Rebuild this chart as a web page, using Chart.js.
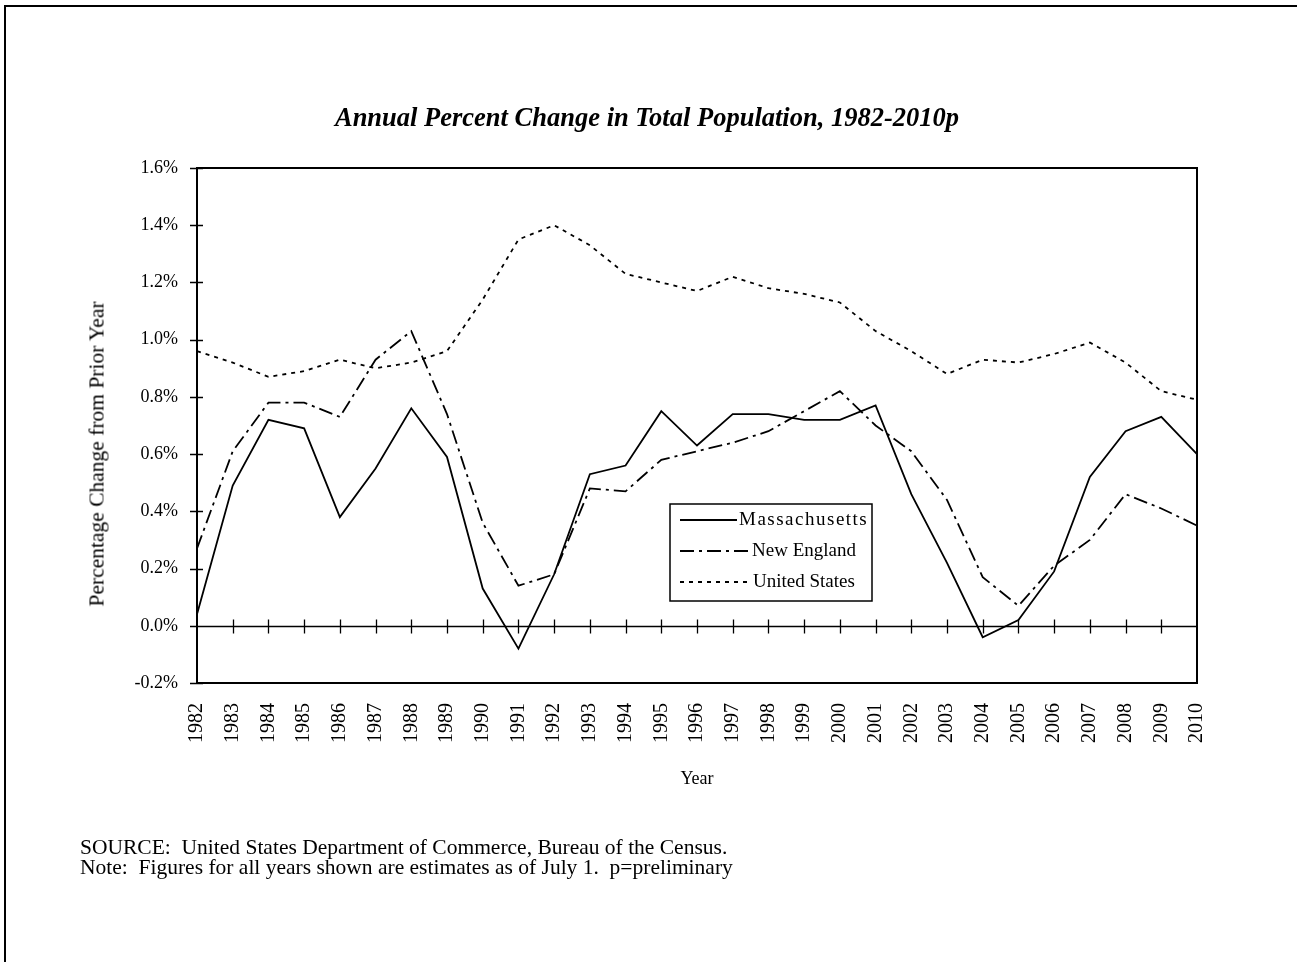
<!DOCTYPE html>
<html>
<head>
<meta charset="utf-8">
<script src="https://cdn.jsdelivr.net/npm/chart.js@4"></script>
<style>
    html, body { margin: 0; padding: 0; background: #fff; }
    #page { position: relative; width: 1297px; height: 962px; overflow: hidden; font-family: "Liberation Serif", "Times New Roman", serif; }
    #frame { position: absolute; left: 4px; top: 5px; width: 1400px; height: 1000px; border-left: 2px solid #000; border-top: 2px solid #000; }
    #popChart { position: absolute; left: 0; top: 0; }
    #title { position: absolute; left: 0; width: 1294px; top: 102px; text-align: center; font-size: 26.5px; font-weight: bold; font-style: italic; }
    #ytitle { position: absolute; left: 97px; top: 454px; transform: translate(-50%, -50%) rotate(-90deg); font-size: 21.5px; white-space: nowrap; }
    .note { position: absolute; left: 80px; font-size: 21.5px; white-space: pre; }
</style>
</head>
<body>
<div id="page">
    <div id="frame"></div>
    <canvas id="popChart" width="1297" height="962"></canvas>
    <div id="title">Annual Percent Change in Total Population, 1982-2010p</div>
    <div id="ytitle">Percentage Change from Prior Year</div>
    <div class="note" style="top: 835px;">SOURCE:  United States Department of Commerce, Bureau of the Census.</div>
    <div class="note" style="top: 855px;">Note:  Figures for all years shown are estimates as of July 1.  p=preliminary</div>
</div>
<script>
const years = ['1982', '1983', '1984', '1985', '1986', '1987', '1988', '1989', '1990', '1991',
    '1992', '1993', '1994', '1995', '1996', '1997', '1998', '1999', '2000', '2001',
    '2002', '2003', '2004', '2005', '2006', '2007', '2008', '2009', '2010'];

const massachusetts = [0.04, 0.49, 0.72, 0.69, 0.38, 0.55, 0.76, 0.59, 0.13, -0.08,
    0.18, 0.53, 0.56, 0.75, 0.63, 0.74, 0.74, 0.72, 0.72, 0.77,
    0.46, 0.22, -0.04, 0.02, 0.19, 0.52, 0.68, 0.73, 0.60];

const newEngland = [0.27, 0.61, 0.78, 0.78, 0.73, 0.93, 1.03, 0.74, 0.36, 0.14,
    0.18, 0.48, 0.47, 0.58, 0.61, 0.64, 0.68, 0.75, 0.82, 0.70,
    0.61, 0.44, 0.17, 0.07, 0.21, 0.30, 0.46, 0.41, 0.35];

const unitedStates = [0.96, 0.92, 0.87, 0.89, 0.93, 0.90, 0.92, 0.96, 1.14, 1.35,
    1.40, 1.33, 1.23, 1.20, 1.17, 1.22, 1.18, 1.16, 1.13, 1.03,
    0.96, 0.88, 0.93, 0.92, 0.95, 0.99, 0.92, 0.82, 0.79];

const seriesNames = ['Massachusetts', 'New England', 'United States'];
const dashes = [[], [14, 5, 3, 5], [4, 5]];

const serif = '"Liberation Serif", "Times New Roman", serif';

// axis frame, zero line, tick marks and the boxed legend
const framePlugin = {
    id: 'frame',
    afterDraw(chart) {
        const ctx = chart.ctx;
        const area = chart.chartArea;
        const x = chart.scales.x;
        const y = chart.scales.y;
        ctx.save();
        ctx.strokeStyle = '#000';

        ctx.lineWidth = 2;
        ctx.strokeRect(area.left, area.top, area.right - area.left, area.bottom - area.top);

        ctx.lineWidth = 1.3;
        const y0 = Math.round(y.getPixelForValue(0)) + 0.5;
        ctx.beginPath();
        ctx.moveTo(area.left, y0);
        ctx.lineTo(area.right, y0);
        y.ticks.forEach(t => {
            const py = Math.round(y.getPixelForValue(t.value)) + 0.5;
            ctx.moveTo(area.left - 7, py);
            ctx.lineTo(area.left + 6, py);
        });
        for (let i = 1; i < years.length - 1; i++) {
            const px = Math.round(x.getPixelForValue(i)) + 0.5;
            ctx.moveTo(px, y0 - 7);
            ctx.lineTo(px, y0 + 7);
        }
        ctx.stroke();

        // legend
        const w = area.right - area.left;
        const bx = area.left + 0.473 * w;
        const by = area.top + 336;
        const textX = [69, 82, 83];
        const spacing = ['1.5px', '0px', '0px'];
        ctx.lineWidth = 1.5;
        ctx.strokeRect(bx, by, 202, 97);
        ctx.font = '19px ' + serif;
        ctx.fillStyle = '#000';
        ctx.textBaseline = 'middle';
        seriesNames.forEach((name, i) => {
            const ly = by + 16 + i * 31;
            ctx.beginPath();
            ctx.setLineDash(dashes[i]);
            ctx.lineWidth = 2;
            ctx.moveTo(bx + 10, ly);
            ctx.lineTo(bx + textX[i] - 2, ly);
            ctx.stroke();
            ctx.setLineDash([]);
            ctx.letterSpacing = spacing[i];
            ctx.fillText(name, bx + textX[i], ly);
        });
        ctx.restore();
    }
};

function line(label, data, dash) {
    return {
        label: label,
        data: data,
        borderColor: '#000',
        backgroundColor: '#000',
        borderWidth: 1.8,
        borderDash: dash,
        pointRadius: 0,
        tension: 0,
        fill: false,
    };
}

new Chart(document.getElementById('popChart'), {
    type: 'line',
    data: {
        labels: years,
        datasets: [
            line(seriesNames[0], massachusetts, dashes[0]),
            line(seriesNames[1], newEngland, dashes[1]),
            line(seriesNames[2], unitedStates, dashes[2]),
        ],
    },
    options: {
        responsive: false,
        animation: false,
        layout: {
            padding: { top: 168, right: 100, left: 83, bottom: 162 },
        },
        plugins: {
            legend: { display: false },
            tooltip: { enabled: false },
        },
        scales: {
            x: {
                type: 'category',
                offset: false,
                grid: { display: false },
                border: { display: false },
                ticks: {
                    autoSkip: false,
                    maxRotation: 90,
                    minRotation: 90,
                    padding: 12,
                    color: '#000',
                    font: { family: serif, size: 20 },
                },
                title: {
                    display: true,
                    text: 'Year',
                    color: '#000',
                    font: { family: serif, size: 18 },
                    padding: { top: 4, bottom: 10 },
                },
                afterFit(scale) { scale.height = 117; },
            },
            y: {
                min: -0.2,
                max: 1.6,
                grid: { display: false },
                border: { display: false },
                ticks: {
                    stepSize: 0.2,
                    padding: 11,
                    color: '#000',
                    font: { family: serif, size: 18 },
                    callback: v => v.toFixed(1) + '%',
                },
                afterFit(scale) { scale.width = 114; },
            },
        },
    },
    plugins: [framePlugin],
});
</script>
</body>
</html>
